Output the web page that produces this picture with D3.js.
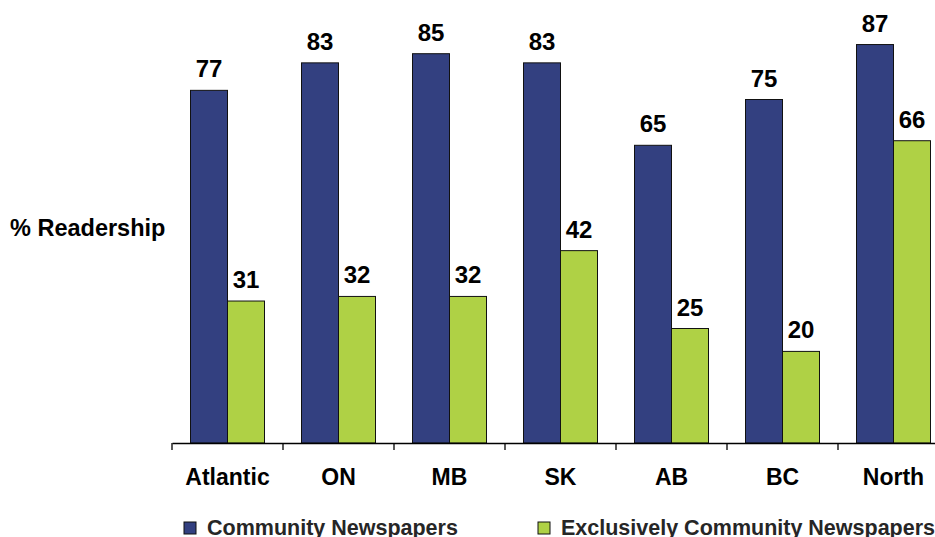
<!DOCTYPE html>
<html>
<head>
<meta charset="utf-8">
<script src="https://cdn.jsdelivr.net/npm/d3@7"></script>
<style>
	body { margin: 0; background: #fff; }
	text { font-family: "Liberation Sans", Arial, sans-serif; font-weight: bold; }
</style>
</head>
<body>
<svg id="svg-chart"></svg>
<script>
// Chart data
const regions = ["Atlantic", "ON", "MB", "SK", "AB", "BC", "North"];
const community = [77, 83, 85, 83, 65, 75, 87];
const exclusive = [31, 32, 32, 42, 25, 20, 66];
const seriesNames = ["Community Newspapers", "Exclusively Community Newspapers"];
const seriesColors = ["#334080", "#AFD145"];

const WIDTH = 935, HEIGHT = 537;
const BASE_Y = 443;

const svg = d3.select("#svg-chart")
	.attr("width", WIDTH)
	.attr("height", HEIGHT);

const xScale = d3.scaleBand().domain(regions).range([172, 949]);
const xInner = d3.scaleBand().domain([0, 1])
	.range([0, xScale.bandwidth()]).paddingOuter(0.5).paddingInner(0);
const yScale = d3.scaleLinear().domain([0, 100]).range([BASE_Y, -15]);

const rows = regions.map((r, i) => ({region: r, values: [community[i], exclusive[i]]}));

// Bars
const groups = svg.selectAll(".grp")
	.data(rows)
	.enter()
	.append("g")
	.attr("transform", d => `translate(${xScale(d.region)}, 0)`);

groups.selectAll("rect")
	.data(d => d.values.map((v, k) => ({k, v})))
	.enter()
	.append("rect")
	.attr("x", d => xInner(d.k))
	.attr("width", xInner.bandwidth())
	.attr("y", d => yScale(d.v))
	.attr("height", d => BASE_Y - yScale(d.v))
	.attr("fill", d => seriesColors[d.k])
	.attr("stroke", "#111")
	.attr("stroke-width", 1);

// Value labels
groups.selectAll(".val")
	.data(d => d.values.map((v, k) => ({k, v})))
	.enter()
	.append("text")
	.attr("x", d => xInner(d.k) + xInner.bandwidth() / 2)
	.attr("y", d => yScale(d.v) - 13)
	.attr("text-anchor", "middle")
	.style("font-size", "24px")
	.attr("fill", "#000")
	.text(d => d.v);

// X-axis
const xAxis = svg.append("g")
	.attr("transform", `translate(0, ${BASE_Y})`)
	.call(d3.axisBottom(xScale).tickSize(0).tickSizeOuter(0).tickPadding(26));
xAxis.select(".domain").attr("stroke", "#000").attr("stroke-width", 1.3);
xAxis.selectAll("text")
	.style("font-size", "23px")
	.attr("fill", "#000");

// Tick marks between categories
svg.append("g")
	.selectAll("line")
	.data(regions)
	.enter()
	.append("line")
	.attr("x1", d => xScale(d))
	.attr("x2", d => xScale(d))
	.attr("y1", BASE_Y)
	.attr("y2", BASE_Y + 7)
	.attr("stroke", "#000")
	.attr("stroke-width", 1.3);

// Y label
svg.append("text")
	.attr("x", 10)
	.attr("y", 236)
	.style("font-size", "23.5px")
	.attr("fill", "#000")
	.text("% Readership");

// Legend
const legendX = [184, 538];
const legend = svg.selectAll(".legend")
	.data(seriesNames)
	.enter()
	.append("g")
	.attr("transform", (d, i) => `translate(${legendX[i]}, 522)`);

legend.append("rect")
	.attr("width", 12)
	.attr("height", 12)
	.attr("fill", (d, i) => seriesColors[i])
	.attr("stroke", "#111")
	.attr("stroke-width", 1);

legend.append("text")
	.attr("x", 23)
	.attr("y", 12.5)
	.style("font-size", "21.5px")
	.attr("fill", "#262626")
	.text(d => d);
</script>
</body>
</html>
